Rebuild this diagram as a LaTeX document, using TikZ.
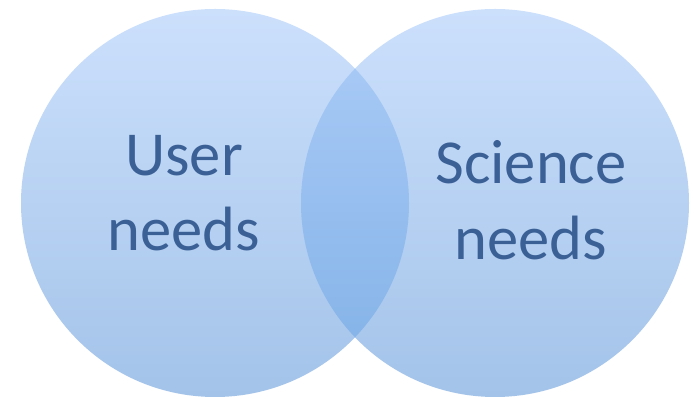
\documentclass[tikz,border=0pt]{standalone}
\usepackage{fontspec}
\setmainfont{Carlito}
\usetikzlibrary{positioning}
\definecolor{topblue}{HTML}{CCE0FC}
\definecolor{botblue}{HTML}{A3C3E9}
\definecolor{lenstop}{HTML}{ADCDF8}
\definecolor{lensbot}{HTML}{80B0E6}
\definecolor{textblue}{HTML}{3A6096}

\begin{document}
\begin{tikzpicture}

\tikzset{set/.style = {shape=circle,minimum size=3.88cm,inner sep=0pt,top color=topblue,bottom color=botblue}}
\tikzset{label/.style = {text=textblue,font=\fontsize{17.8}{21.5}\selectfont,align=center}}
\useasboundingbox (0,0) rectangle (6.96,3.99);
%sets
\node[set] (user) at (2.15,1.96) {};
\node[set] (science) at (4.95,1.96) {};
%overlap
\begin{scope}
\clip (user.center) circle (1.94);
\shade[top color=lenstop,bottom color=lensbot] (science.center) circle (1.94);
\end{scope}
%labels
\node[label] (usertext) at (1.84,2.06) {User\\needs};
\node[label] (sciencetext) at (5.31,1.99) {Science\\needs};

\end{tikzpicture}
\end{document}
